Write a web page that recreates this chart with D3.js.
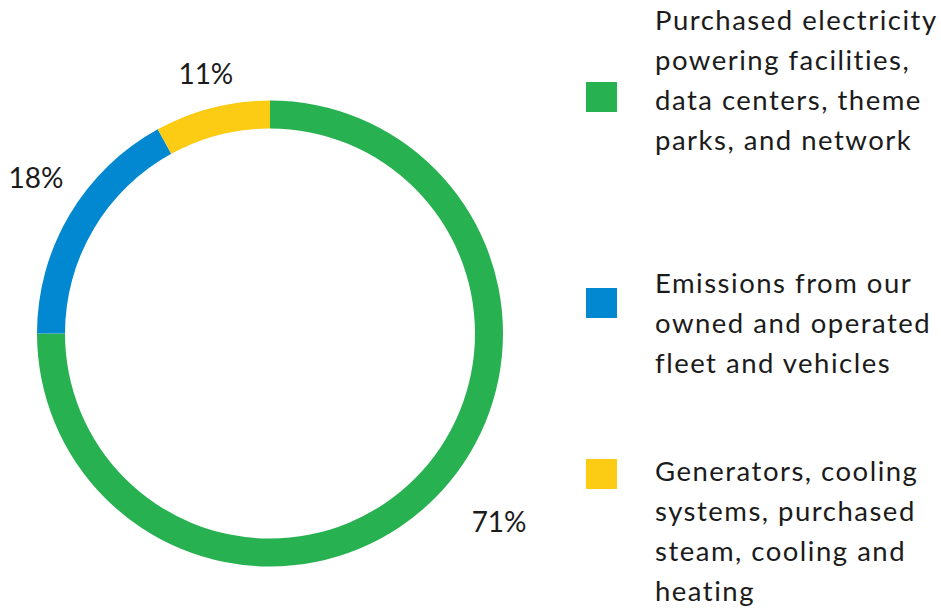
<!DOCTYPE html>
<html>
<head>
<meta charset="utf-8">
<script src="https://cdn.jsdelivr.net/npm/d3@7"></script>
<style>
  html, body { margin: 0; padding: 0; background: #fff; }
  text { font-family: Lato, "Noto Sans", sans-serif; fill: #1b1b1b; }
</style>
</head>
<body>
<div id="chart-holder"></div>
<script>
// categories, in drawing order (clockwise from 12 o'clock)
const categories = ["electricity", "fleet", "generators"];
// share of the ring as drawn
const shares = [75, 17, 8];
// percent labels printed next to the ring
const percentLabels = ["71%", "18%", "11%"];
const legendLines = [
  ["Purchased electricity", "powering facilities,", "data centers, theme", "parks, and network"],
  ["Emissions from our", "owned and operated", "fleet and vehicles"],
  ["Generators, cooling", "systems, purchased", "steam, cooling and", "heating"]
];
const colors = ["#27b150", "#0288d1", "#fccb13"];

const width = 941;
const height = 608;
const cx = 270;
const cy = 333.5;
const outerR = 233;
const innerR = 205;
const labelR = 266;

const svg = d3
  .select("#chart-holder")
  .append("svg")
  .attr("width", width)
  .attr("height", height);

const color = d3.scaleOrdinal().domain(categories).range(colors);

const pie = d3
  .pie()
  .sort(null)
  .value((d, i) => shares[i]);

const arcs = pie(categories);

const arc = d3.arc().innerRadius(innerR).outerRadius(outerR);
const labelArc = d3.arc().innerRadius(labelR).outerRadius(labelR);

const ring = svg.append("g").attr("transform", `translate(${cx},${cy})`);

ring
  .selectAll("path")
  .data(arcs)
  .enter()
  .append("path")
  .attr("d", arc)
  .attr("fill", (d) => color(d.data));

// labels sit near the centroid, nudged like the original layout
const labelNudge = [[41, 1], [-5, -20], [2, -2]];
ring
  .selectAll("text.pct")
  .data(arcs)
  .enter()
  .append("text")
  .attr("class", "pct")
  .attr("x", (d, i) => labelArc.centroid(d)[0] + labelNudge[i][0])
  .attr("y", (d, i) => labelArc.centroid(d)[1] + labelNudge[i][1])
  .attr("dy", "0.35em")
  .attr("text-anchor", "middle")
  .style("font-size", "28px")
  .text((d, i) => percentLabels[i]);

// legend
const legendX = 586;
const textX = 655;
const lineH = 40;
const firstBaseline = [30, 293, 481];
const squareTop = [82, 288, 459];

const legend = svg
  .selectAll("g.legend")
  .data(categories)
  .enter()
  .append("g")
  .attr("class", "legend");

legend
  .append("rect")
  .attr("x", legendX)
  .attr("y", (d, i) => squareTop[i])
  .attr("width", 31)
  .attr("height", 30)
  .attr("fill", (d) => color(d));

legend
  .append("text")
  .style("font-size", "27.5px")
  .style("letter-spacing", "1.5px")
  .selectAll("tspan")
  .data((d, i) => legendLines[i].map((t, j) => ({ t, y: firstBaseline[i] + j * lineH })))
  .enter()
  .append("tspan")
  .attr("x", textX)
  .attr("y", (d) => d.y)
  .text((d) => d.t);
</script>
</body>
</html>
